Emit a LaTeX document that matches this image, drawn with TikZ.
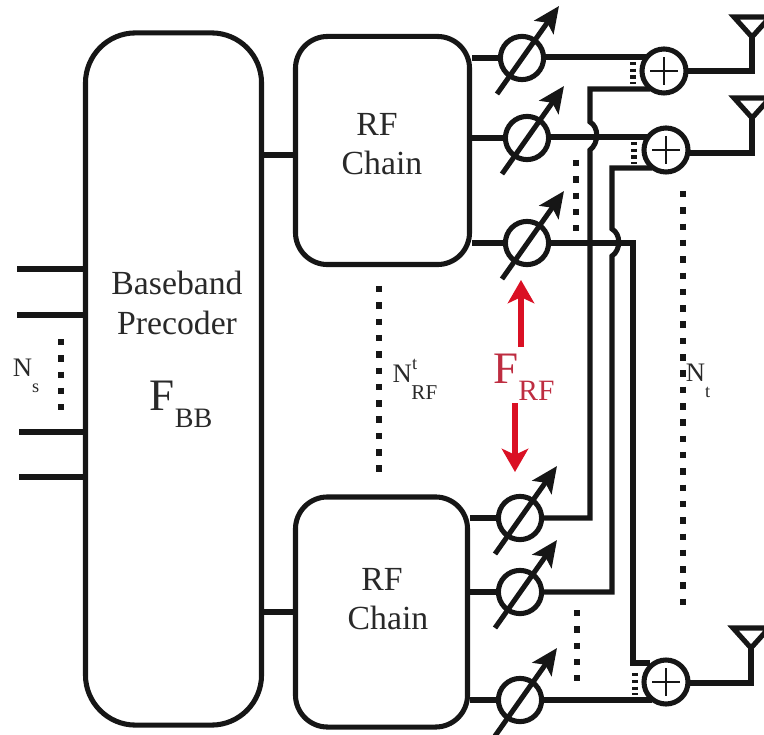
\documentclass[tikz,border=0pt]{standalone}
\usepackage{fontspec}
\setmainfont{Liberation Serif}
\usetikzlibrary{positioning, calc, arrows.meta}
\definecolor{rfred}{RGB}{218,16,36}
\definecolor{rftext}{RGB}{190,45,65}
\definecolor{ink}{RGB}{22,22,22}
\tikzset{%
  block/.style    = {draw = ink, line width = 3.6pt, rectangle, align = center},
  phase/.style    = {draw = ink, circle, line width = 3.6pt, minimum size = 1.08cm, inner sep = 0pt}, % Shifter
  sum/.style      = {draw = ink, circle, line width = 3.6pt, minimum size = 1.1cm, inner sep = 0pt}, % Adder
  wire/.style     = {draw = ink, line width = 3.6pt},
  dots/.style     = {draw = ink, line width = 4.4pt, dash pattern = on 4.6pt off 7pt},
  tinydots/.style = {draw = ink, line width = 3.8pt, dash pattern = on 2.2pt off 2.6pt},
  label/.style    = {text = ink!92, align = center, inner sep = 0pt},
  redarrow/.style = {rfred, line width = 4.4pt, -{Stealth[length = 5.8mm, width = 6.6mm, inset = 1.5mm]}}
}
\newcommand{\bigsize}{\fontsize{32}{36}\selectfont}
\newcommand{\midsize}{\fontsize{24}{29}\selectfont}
\newcommand{\smallsize}{\fontsize{19}{22}\selectfont}
\newcommand{\lowered}[2]{\raisebox{-0.38em}{\fontsize{#1}{#1}\selectfont #2}}
\newcommand{\sunken}[2]{\raisebox{-0.62em}{\fontsize{#1}{#1}\selectfont #2}}
\newcommand{\shifter}[1]{\draw[wire, -{Stealth[length = 6.5mm, width = 5.8mm, inset = 1.4mm]}] ($(#1)+(-25,36)$) -- ($(#1)+(37,-52)$);}
\newcommand{\cross}[1]{\draw[ink, line width = 1.6pt] ($(#1)+(-14,0)$) -- ($(#1)+(14,0)$) ($(#1)+(0,-14)$) -- ($(#1)+(0,14)$);}
\newcommand{\antenna}[1]{\draw[wire, line join = miter] ($(#1)+(-18,-20)$) -- ($(#1)+(18,-20)$) -- (#1) -- cycle;}

\begin{document}
\begin{tikzpicture}[x = 0.025cm, y = -0.025cm]
\useasboundingbox (0,0) rectangle (764,735);
%blocks
\draw
	(173.5,379) node [block, minimum width = 4.4cm, minimum height = 17.3cm, rounded corners = 1.25cm] (bb) {}
	(382.5,150.5) node [block, minimum width = 4.35cm, minimum height = 5.7cm, rounded corners = 0.8cm] (rf1) {}
	(381.5,612) node [block, minimum width = 4.3cm, minimum height = 5.75cm, rounded corners = 0.8cm] (rf2) {};
%shifters
\draw
	(522,58) node [phase] (ps1) {}
	(527,138) node [phase] (ps2) {}
	(527,243) node [phase] (ps3) {}
	(520,518) node [phase] (ps4) {}
	(520,592) node [phase] (ps5) {}
	(520,700) node [phase] (ps6) {};
\shifter{ps1} \shifter{ps2} \shifter{ps3} \shifter{ps4} \shifter{ps5} \shifter{ps6}
%adders
\draw
	(664,71) node [sum] (s1) {}
	(666,150) node [sum] (s2) {}
	(666,682) node [sum] (s3) {};
\cross{s1} \cross{s2} \cross{s3}
%antennas
\coordinate (a1) at (752,37);
\coordinate (a2) at (752,118);
\coordinate (a3) at (751,648);
\antenna{a1} \antenna{a2} \antenna{a3}
\draw[wire] (s1) ++(22,0) -| (a1);
\draw[wire] (s2) ++(24,3) -| (a2);
\draw[wire] (s3) ++(24,1) -| (a3);
%stream inputs
\coordinate (in1) at (17,269);
\coordinate (in2) at (17,315);
\coordinate (in3) at (19,432);
\coordinate (in4) at (19,477);
\draw[wire, line width = 4pt] (in1) -- (in1 -| bb.west);
\draw[wire, line width = 4pt] (in2) -- (in2 -| bb.west);
\draw[wire, line width = 4pt] (in3) -- (in3 -| bb.west);
\draw[wire, line width = 4pt] (in4) -- (in4 -| bb.west);
%block lines
\draw[wire] (rf1.west |- 0,155) -- (bb.east |- 0,155);
\draw[wire] (rf2.west |- 0,612) -- (bb.east |- 0,612);
\draw[wire] (rf1.east |- ps1) -- (ps1);
\draw[wire] (rf1.east |- ps2) -- (ps2);
\draw[wire] (rf1.east |- ps3) -- (ps3);
\draw[wire] (rf2.east |- ps4) -- (ps4);
\draw[wire] (rf2.east |- ps5) -- (ps5);
\draw[wire] (rf2.east |- ps6) -- (ps6);
%shifter to adder lines
\coordinate (t1) at (646,57);
\coordinate (t2) at (648,137);
\coordinate (t3) at (650,663);
\coordinate (b1) at (650,89);
\coordinate (b2) at (652,168);
\coordinate (b3) at (652,700);
\draw[wire] (ps1) ++(22,-1) -- (t1);
\draw[wire] (ps2) ++(22,-1) -- (t2);
\draw[wire, line join = miter] (ps3) ++(22,0) -- (633,243) -- (633,663) -- (t3);
\draw[wire] (ps6) ++(22,0) -- (b3);
\draw[wire, line join = miter] (b1) -- (590,89) -- (590,122) .. controls (599,127) and (599,143) .. (590,150) -- (590,518) -- (ps4.east);
\draw[wire, line join = miter] (b2) -- (612,168) -- (612,229) .. controls (621,234) and (621,250) .. (612,256) -- (612,592) -- (ps5.east);
%dots
\draw[tinydots] (633,62) -- (633,84);
\draw[tinydots] (634,142) -- (634,164);
\draw[tinydots] (635,673) -- (635,695);
\draw[dots] (61,339) -- (61,410);
\draw[dots] (379,286) -- (379,475);
\draw[dots] (576,160) -- (576,231);
\draw[dots] (577,610) -- (577,681);
\draw[dots] (683,191) -- (683,608);
%red arrows
\coordinate (f1) at (521,347);
\coordinate (f2) at (521,280);
\coordinate (f3) at (515,403);
\coordinate (f4) at (515,472);
\draw[redarrow] (f1) -- (f2);
\draw[redarrow] (f3) -- (f4);
%labels
\node[label, font = \midsize] (lbb) at (177,303) {Baseband\\Precoder};
\node[label, font = \midsize] (lrf1) at (382,144) {\hspace*{-7pt}RF\\[-1pt]Chain};
\node[label, font = \midsize] (lrf2) at (388,599) {\hspace*{-8.5pt}RF\\[-1pt]Chain};
\node[label, font = \bigsize] (lfbb) at (181,404) {F\lowered{20}{BB}};
\node[label, font = \bigsize, text = rftext] (lfrf) at (524,377) {F\lowered{21}{RF}};
\node[label, font = \smallsize] (lns) at (26,376) {N\sunken{13}{s}};
\node[label, font = \smallsize] (lnt) at (698,381) {N\sunken{13}{t}};
\node[label, font = \smallsize] (lnrf) at (415,379) {N\raisebox{0.5em}{\fontsize{13}{13}\selectfont t}\hspace{-4pt}\sunken{15}{RF}};
\end{tikzpicture}
\end{document}
